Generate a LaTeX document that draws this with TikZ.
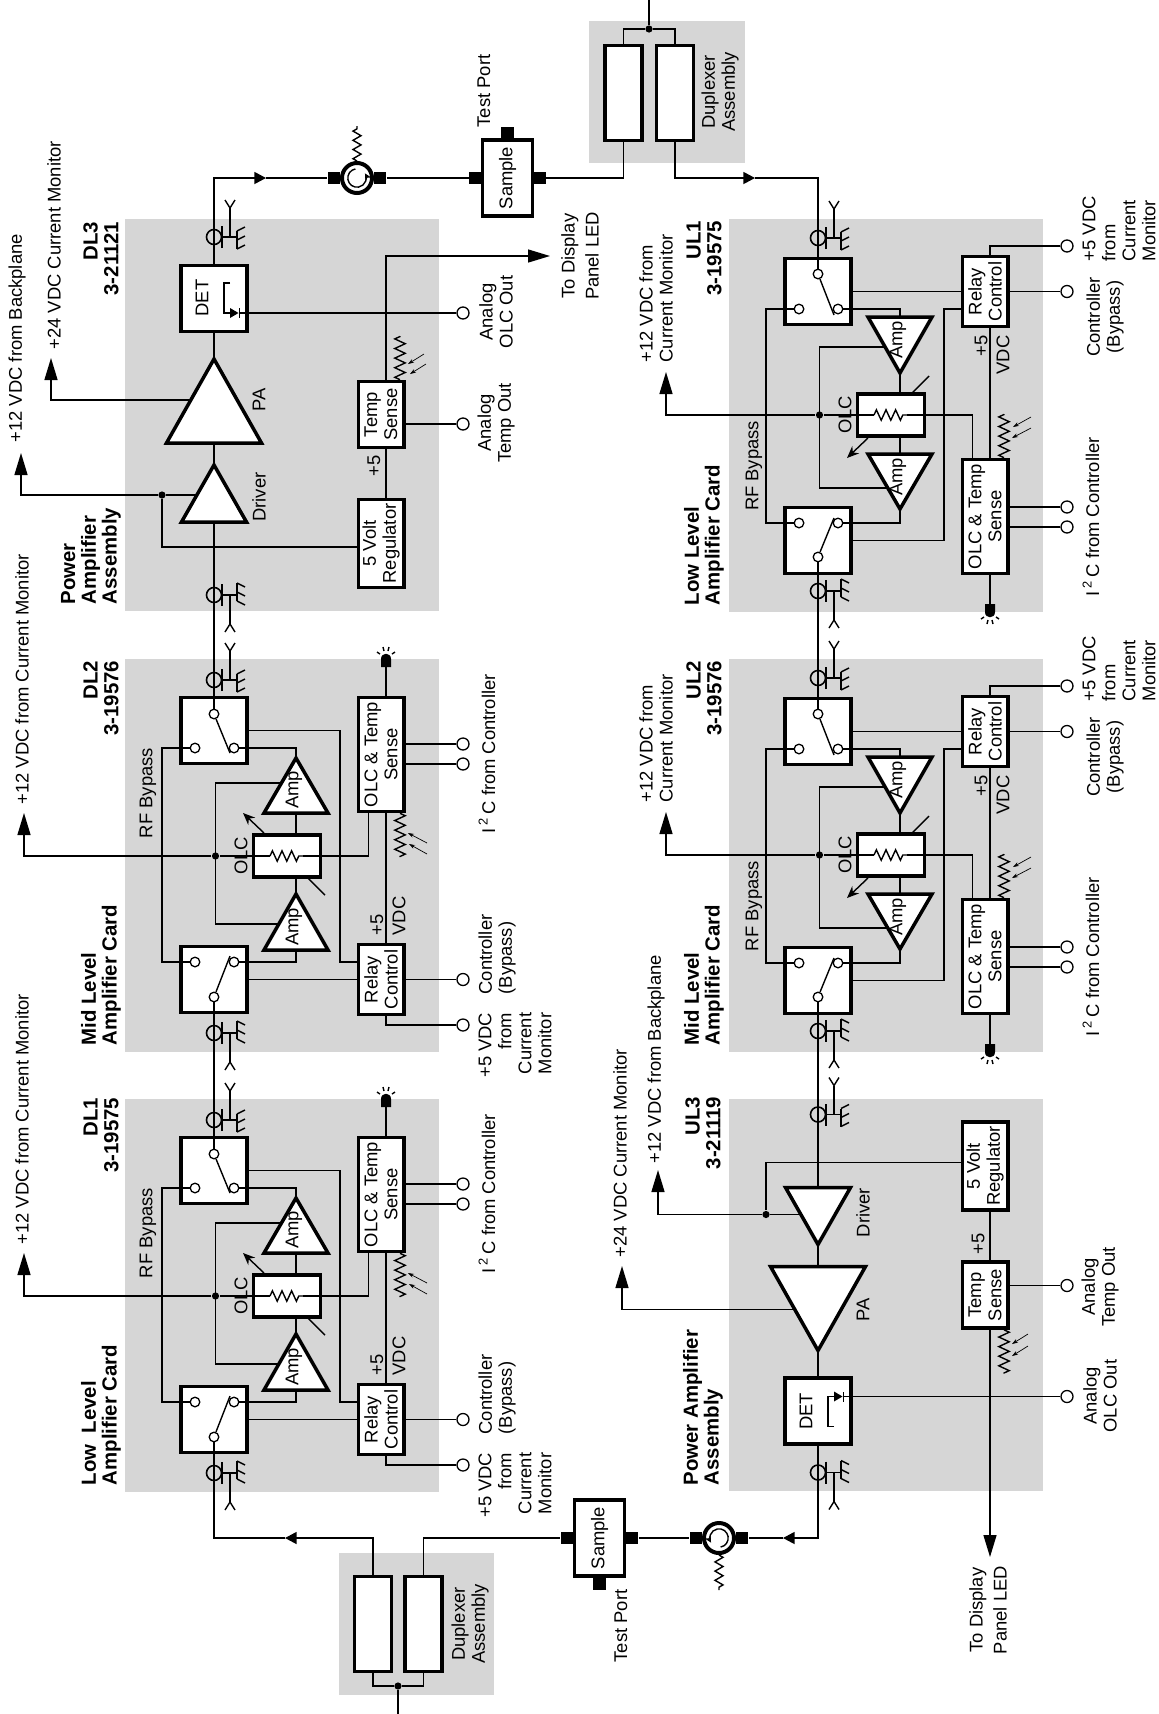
\documentclass[tikz,border=0pt]{standalone}
\usepackage{fontspec}
\setmainfont{Liberation Sans}
\usetikzlibrary{arrows.meta,decorations.pathmorphing}
\definecolor{panelgray}{HTML}{D6D6D6}
\newcommand{\labfont}{\fontsize{9.2}{10}\selectfont}
\tikzset{
  panel/.style={fill=panelgray},
  block/.style={draw=black,fill=white,line width=1.8pt,rotate=90,align=center,inner sep=0pt,font=\labfont},
  txt/.style={rotate=90,align=center,inner sep=0pt,font=\labfont},
  head/.style={rotate=90,inner sep=0pt,font=\fontsize{10.2}{10.4}\selectfont\bfseries},
  pad/.style={circle,draw=black,fill=white,line width=.65pt,minimum size=6pt,inner sep=0pt},
  contact/.style={circle,draw=black,fill=white,line width=.65pt,minimum size=4.8pt,inner sep=0pt},
  coaxring/.style={circle,draw=black,line width=.8pt,minimum size=7.5pt,inner sep=0pt},
  circ/.style={circle,draw=black,fill=white,line width=2pt,minimum size=15pt,inner sep=0pt},
  dot/.style={circle,fill=black,minimum size=3.6pt,inner sep=0pt},
  tab/.style={fill=black,minimum width=6.2pt,minimum height=6pt,inner sep=0pt},
  tri/.style={draw=black,fill=white,line width=1.75pt,miter limit=10},
  res/.style={decorate,decoration={zigzag,segment length=4.8pt,amplitude=2.6pt}},
  smallres/.style={decorate,decoration={zigzag,segment length=4.6pt,amplitude=2pt}},
  photo/.style={line width=.35pt,-{Stealth[length=3pt,width=2pt]}},
  bigarrow/.style={-{Triangle[length=11pt,width=6.5pt]}},
  midtip/.style={-{Triangle[length=5.8pt,width=6pt]}},
  ctlarrow/.style={-{Stealth[length=6pt,width=5pt]}}
}
\newcommand{\coaxtap}[3]{
\node[coaxring] (#1) at (214,#2) {};
\begin{scope}[shift={(214,#2)},yscale=#3]
\draw (8,-11) -- (8,11);
\draw (8,0) -- (23,0);
\draw (16,0) -- (16,29);
\draw (11,37) -- (16,29) -- (21,37);
\draw (23,-12) -- (23,6);
\draw (23,-12) -- (31,-8);
\draw (23,-3) -- (31,1);
\draw (23,6) -- (31,10);
\end{scope}
}
\newcommand{\ledlamp}[2]{
\begin{scope}[shift={(#1,#2)}]
\fill (-5,0) -- (-5,-8) .. controls (-5,-15) and (5,-15) .. (5,-8) -- (5,0) -- cycle;
\draw (-9,-15) -- (-6,-13);
\draw (-3,-20) -- (-2,-16);
\draw (3,-20) -- (2,-16);
\draw (9,-15) -- (6,-13);
\end{scope}
}
\newcommand{\ampcard}[4]{
\fill[panel] (125,659) rectangle (438.5,1052);
\coaxtap{#1-ctop}{680}{-1}
\coaxtap{#1-cbot}{1033}{1}
\node[block,minimum width=33pt,minimum height=33pt] (#1-swt) at (214,730.5) {};
\node[block,minimum width=33pt,minimum height=33pt] (#1-swb) at (214,979.5) {};
\node[block,minimum width=35pt,minimum height=22.7pt] (#1-relay) at (381,979.5) {Relay\\Control};
\node[block,minimum width=57pt,minimum height=22.7pt] (#1-sense) at (381,754.5) {OLC \& Temp\\Sense};
\node[block,minimum width=21pt,minimum height=33.5pt] (#1-olc) at (287,856) {};
\node[contact] (#1-a1) at (214,714) {};
\node[contact] (#1-a2) at (195,748) {};
\node[contact] (#1-a3) at (234,748) {};
\node[contact] (#1-b1) at (214,997) {};
\node[contact] (#1-b2) at (195,962) {};
\node[contact] (#1-b3) at (234,962) {};
\node[dot] (#1-dot) at (215.5,856) {};
\node[pad] (#1-p1) at (463,744) {};
\node[pad] (#1-p2) at (463,764) {};
\node[pad] (#1-p3) at (463,979.5) {};
\node[pad] (#1-p4) at (463,1025) {};
\coordinate (#1-bladea) at (230,753);
\coordinate (#1-bladeb) at (230,956);
\coordinate (#1-left) at (162,856);
\coordinate (#1-ampu) at (296,790+#4);
\coordinate (#1-ampl) at (296,927+#4);
\coordinate (#1-axis) at (296,856);
\coordinate (#1-bu) at (215.5,783);
\coordinate (#1-bl) at (215.5,924);
\coordinate (#1-zl) at (270,856);
\coordinate (#1-zr) at (303,856);
\coordinate (#1-oin) at (368.5,856);
\coordinate (#1-ctl) at (340,962);
\coordinate (#1-rail) at (386,856);
\coordinate (#1-led) at (386,667);
\coordinate (#1-rs) at (400,857);
\draw (#1-ctop.center) -- (#1-a1);
\draw (#1-cbot.center) -- (#1-b1);
\draw (#1-a1) -- (#1-bladea);
\draw (#1-b1) -- (#1-bladeb);
\draw (#1-a2) -| (#1-left) |- (#1-b2);
\draw (#1-a3) -| (#1-ampu);
\draw (#1-b3) -| (#1-ampl);
\draw (#1-ampu) -- (#1-axis |- #1-olc.#2);
\draw (#1-ampl) -- (#1-axis |- #1-olc.#3);
\draw (#1-ampu |- #1-bu) -- (#1-bu) -- (#1-bl) -- (#1-ampl |- #1-bl);
\draw (#1-dot) -- (#1-zl);
\draw[res] (#1-zl) -- (#1-zr);
\draw (#1-zr) -- (#1-oin) -- (#1-oin |- #1-sense.#3);
\draw (#1-swb) -- (#1-relay);
\draw (#1-relay) -- (#1-p3);
\draw (#1-swt) -| (#1-ctl) -- (#1-ctl -| #1-relay.north);
\draw (#1-rail |- #1-relay.#2) -- (#1-rail |- #1-sense.#3);
\draw (#1-p4) -| (#1-rail |- #1-relay.#3);
\draw (#1-p1) -- (#1-p1 -| #1-sense.south);
\draw (#1-p2) -- (#1-p2 -| #1-sense.south);
\draw (#1-rail |- #1-sense.#2) -- (#1-led);
\ledlamp{386}{667}
\draw[res] (#1-rs |- #1-sense.#3) -- (#1-rs);
\draw[photo] (427,843) -- (408,833);
\draw[photo] (427,854) -- (409,844);
\draw[ctlarrow] (264,833) -- (243,813);
\draw (308,878) -- (325,895);
\draw[tri] (296,758+#4) -- (264,813+#4) -- (328,813+#4) -- cycle;
\draw[tri] (296,894+#4) -- (264,950+#4) -- (328,950+#4) -- cycle;
\node[txt] (#1-ampua) at (294,790+#4) {Amp};
\node[txt] (#1-ampla) at (294,927+#4) {Amp};
\node[txt] (#1-olctxt) at (241,856) {OLC};
\node[txt] (#1-plus) at (377,925) {+5};
\node[txt] (#1-vdc) at (399,916) {VDC};
\node[txt] (#1-ictxt) at (487,754) {I\,\textsuperscript{2}\,C from Controller};
}
\newcommand{\paunit}[3]{
\fill[panel] (125,219) rectangle (438.5,611);
\coaxtap{#1-ctop}{237}{-1}
\coaxtap{#1-cbot}{595}{1}
\node[block,minimum width=33pt,minimum height=33pt] (#1-det) at (214,298.5) {};
\node[block,minimum width=33pt,minimum height=22.7pt] (#1-temp) at (381,414.5) {Temp\\Sense};
\node[block,minimum width=44pt,minimum height=22.7pt] (#1-reg) at (381,543.5) {5 Volt\\Regulator};
\node[dot] (#1-dot) at (162,495) {};
\node[pad] (#1-p1) at (463,313) {};
\node[pad] (#1-p2) at (463,424) {};
\node[txt] (#1-dettxt) at (202,298) {DET};
\coordinate (#1-pac) at (214,400);
\coordinate (#1-pae) at (191,400);
\coordinate (#1-drc) at (214,495);
\coordinate (#1-k) at (162,547);
\coordinate (#1-rail) at (386,470);
\coordinate (#1-rs) at (400,336);
\coordinate (#1-dk) at (239.5,313);
\draw (#1-ctop.center) -- (#1-det);
\draw (#1-det) -- (#1-pac);
\draw (#1-pac) -- (#1-drc);
\draw (#1-drc) -- (#1-cbot.center);
\draw (#1-dot) -- (#1-drc);
\draw (#1-dot) -- (#1-k) -- (#1-k -| #1-reg.north);
\draw (#1-rail |- #1-temp.#3) -- (#1-rail |- #1-reg.#2);
\draw (#1-p1) -- (#1-dk);
\draw (#1-p2) -- (#1-p2 -| #1-temp.south);
\draw (230,283) -- (224,283) -- (224,313) -- (230,313);
\fill (230,308) -- (230,318) -- (238.5,313) -- cycle;
\draw (239.5,308) -- (239.5,318);
\draw[res] (#1-rs |- #1-temp.#2) -- (#1-rs);
\draw[tri] (214,359) -- (166.5,443) -- (261.5,443) -- cycle;
\draw[tri] (214,465) -- (181.5,522) -- (246.5,522) -- cycle;
\node[txt] (#1-patxt) at (259,400) {PA};
\node[txt] (#1-drtxt) at (259,497) {Driver};
\node[txt] (#1-plus) at (374,466) {+5};
}
\begin{document}
\begin{tikzpicture}[x=0.5pt,y=-0.5pt,line width=.7pt]
\useasboundingbox (0,0) rectangle (1159,1714);
\paunit{dl3}{east}{west}
\begin{scope}\ampcard{dl2}{east}{west}{0}\end{scope}
\begin{scope}[shift={(0,440)}]\ampcard{dl1}{east}{west}{0}\end{scope}
\begin{scope}[shift={(604,1709.5)},yscale=-1]\paunit{ul3}{west}{east}\end{scope}
\begin{scope}[shift={(604,1711)},yscale=-1]\ampcard{ul2}{west}{east}{4}\end{scope}
\begin{scope}[shift={(604,1271)},yscale=-1]\ampcard{ul1}{west}{east}{4}\end{scope}
\fill[panel] (589,21) rectangle (745,163);
\fill[panel] (339,1553) rectangle (494,1695);
\draw (dl3-cbot.center) -- (dl2-ctop.center);
\draw (dl2-cbot.center) -- (dl1-ctop.center);
\draw (ul1-ctop.center) -- (ul2-cbot.center);
\draw (ul2-ctop.center) -- (ul3-cbot.center);
\node[block,minimum width=47.5pt,minimum height=18.6pt] (dua) at (623.5,93) {};
\node[block,minimum width=47.5pt,minimum height=18.6pt] (dub) at (675,93) {};
\node[dot] (dutop) at (649,29) {};
\node[block,minimum width=47.5pt,minimum height=18.6pt] (dda) at (373,1624) {};
\node[block,minimum width=47.5pt,minimum height=18.6pt] (ddb) at (423.5,1624) {};
\node[dot] (ddbot) at (398,1686) {};
\node[block,minimum width=38pt,minimum height=25pt] (sma) at (507.5,178) {Sample};
\node[tab] (smal) at (475.5,178) {};
\node[tab] (smar) at (539.5,178) {};
\node[tab] (smat) at (507.5,133) {};
\node[block,minimum width=38pt,minimum height=25pt] (smb) at (599.5,1538) {Sample};
\node[tab] (smbl) at (567,1538) {};
\node[tab] (smbr) at (632,1538) {};
\node[tab] (smbb) at (599.5,1583.5) {};
\node[tab] (cirl) at (334,178) {};
\node[tab] (cirr) at (380,178) {};
\node[circ] (cira) at (357,178) {};
\node[tab] (cjrl) at (696,1538) {};
\node[tab] (cjrr) at (742,1538) {};
\node[circ] (cirb) at (719,1538) {};
\coordinate (cirat) at (357,126);
\coordinate (cirbt) at (719,1590);
\coordinate (arra) at (266,178);
\coordinate (arrb) at (755,178);
\coordinate (arrc) at (285,1538);
\coordinate (arrd) at (783,1538);
\coordinate (duend) at (649,0);
\coordinate (ddend) at (398,1714);
\draw[midtip] (dl3-ctop.center) |- (arra);
\draw (arra) -- (cirl);
\draw (cirr) -- (smal);
\draw (smar) -| (dua);
\draw[midtip] (dub) |- (arrb);
\draw (arrb) -| (ul1-cbot.center);
\draw (dua) |- (dutop);
\draw (dub) |- (dutop);
\draw (dutop) -- (duend);
\draw[midtip] (dda) |- (arrc);
\draw (arrc) -| (dl1-cbot.center);
\draw (ddb) |- (smbl);
\draw (dda) |- (ddbot);
\draw (ddb) |- (ddbot);
\draw (ddbot) -- (ddend);
\draw (smbr) -- (cjrl);
\draw[midtip] (ul3-ctop.center) |- (arrd);
\draw (arrd) -- (cjrr);
\draw[smallres] (cira) -- (cirat);
\draw[smallres] (cirb) -- (cirbt);
\draw[line width=.7pt,-{Stealth[length=3.5pt,width=3.5pt]}] (cira.center) ++(100:4.6pt) arc[start angle=100,end angle=390,radius=4.6pt];
\draw[line width=.7pt,-{Stealth[length=3.5pt,width=3.5pt]}] (cirb.center) ++(280:4.6pt) arc[start angle=280,end angle=570,radius=4.6pt];
\coordinate (v12a) at (21,453);
\coordinate (v24a) at (51,358);
\coordinate (v12b) at (658,1170);
\coordinate (v24b) at (622,1266);
\coordinate (v12c) at (24,813);
\coordinate (v12d) at (24,1253);
\coordinate (v12e) at (666,812);
\coordinate (v12f) at (666,372);
\coordinate (leda) at (550,256);
\coordinate (ledb) at (990,1557);
\draw[bigarrow] (dl3-dot) -| (v12a);
\draw[bigarrow] (dl3-pae) -| (v24a);
\draw[bigarrow] (ul3-dot) -| (v12b);
\draw[bigarrow] (ul3-pae) -| (v24b);
\draw[bigarrow] (dl2-dot) -| (v12c);
\draw[bigarrow] (dl1-dot) -| (v12d);
\draw[bigarrow] (ul2-dot) -| (v12e);
\draw[bigarrow] (ul1-dot) -| (v12f);
\draw[bigarrow] (dl3-rail |- dl3-temp.east) |- (leda);
\draw[bigarrow] (ul3-rail |- ul3-temp.west) -- (ledb);
\draw[photo] (424,354) -- (408,364);
\draw[photo] (426,364) -- (410,374);
\draw[photo] (1028,1334) -- (1012,1344);
\draw[photo] (1028,1346) -- (1012,1356);
\node[txt] (tpa) at (484,91) {Test Port};
\node[txt] (tpb) at (621,1626) {Test Port};
\node[txt] (dutxt) at (720,92) {Duplexer\\Assembly};
\node[txt] (ddtxt) at (470,1624) {Duplexer\\Assembly};
\node[txt] (ledta) at (580,256) {To Display\\[2pt]Panel LED};
\node[txt] (ledtb) at (988,1610) {To Display\\[2pt]Panel LED};
\node[txt,anchor=west] (b12a) at (17,443) {+12 VDC from Backplane};
\node[txt,anchor=west] (b24a) at (54,350) {+24 VDC Current Monitor};
\node[txt,anchor=west] (b12b) at (656,1164) {+12 VDC from Backplane};
\node[txt,anchor=west] (b24b) at (620,1258) {+24 VDC Current Monitor};
\node[txt,anchor=west] (c12a) at (22,805) {+12 VDC from Current Monitor};
\node[txt,anchor=west] (c12b) at (22,1245) {+12 VDC from Current Monitor};
\node[txt,anchor=west,align=left] (c12c) at (656,803) {+12 VDC from\\Current Monitor};
\node[txt,anchor=west,align=left] (c12d) at (656,363) {+12 VDC from\\Current Monitor};
\node[txt] (rfa) at (148,793) {RF Bypass};
\node[txt] (rfb) at (148,1233) {RF Bypass};
\node[txt] (rfc) at (754,906) {RF Bypass};
\node[txt] (rfd) at (754,466) {RF Bypass};
\node[txt] (aoa) at (496,312) {Analog\\OLC Out};
\node[txt] (ata) at (496,423) {Analog\\Temp Out};
\node[txt] (aob) at (1100,1396) {Analog\\OLC Out};
\node[txt] (atb) at (1100,1287) {Analog\\Temp Out};
\node[txt,anchor=west,align=left] (byb) at (497,995) {Controller\\(Bypass)};
\node[txt,anchor=west,align=left] (bya) at (497,1435) {Controller\\(Bypass)};
\node[txt] (byc) at (1105,757) {Controller\\(Bypass)};
\node[txt] (byd) at (1105,317) {Controller\\(Bypass)};
\node[txt,anchor=east,align=right] (mob) at (515,1012) {+5 VDC\\from\\Current\\Monitor};
\node[txt,anchor=east,align=right] (moa) at (515,1452) {+5 VDC\\from\\Current\\Monitor};
\node[txt,anchor=west,align=left] (moc) at (1119,702) {+5 VDC\\from\\Current\\Monitor};
\node[txt,anchor=west,align=left] (mod) at (1119,262) {+5 VDC\\from\\Current\\Monitor};
\node[head,anchor=east,align=right] (hda) at (101,221) {DL3\\3-21121};
\node[head,anchor=west,align=left] (hdb) at (91,605) {Power\\Amplifier\\Assembly};
\node[head,anchor=east,align=right] (hdc) at (101,660) {DL2\\3-19576};
\node[head,anchor=west,align=left] (hdd) at (101,1046) {Mid Level\\Amplifier Card};
\node[head,anchor=east,align=right] (hde) at (101,1097) {DL1\\3-19575};
\node[head,anchor=west,align=left] (hdf) at (101,1486) {Low~~Level\\Amplifier Card};
\node[head,anchor=east,align=right] (hdg) at (704,220) {UL1\\3-19575};
\node[head,anchor=west,align=left] (hdh) at (704,606) {Low Level\\Amplifier Card};
\node[head,anchor=east,align=right] (hdi) at (704,660) {UL2\\3-19576};
\node[head,anchor=west,align=left] (hdj) at (704,1046) {Mid Level\\Amplifier Card};
\node[head,anchor=east,align=right] (hdk) at (703,1096) {UL3\\3-21119};
\node[head,anchor=west,align=left] (hdl) at (703,1486) {Power Amplifier\\Assembly};
\end{tikzpicture}
\end{document}
